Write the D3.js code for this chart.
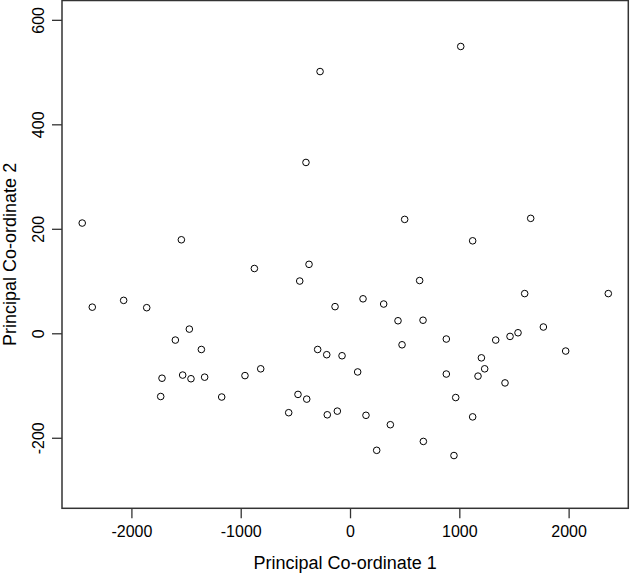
<!DOCTYPE html>
<html>
<head>
<meta charset="utf-8">
<script src="https://cdn.jsdelivr.net/npm/d3@7"></script>
<style>
  body { margin: 0; background: #fff; }
  text { font-family: "Liberation Sans", Arial, sans-serif; }
</style>
</head>
<body>
<script>
// principal co-ordinate scores
var pc1 = [-2450, -1543, -2358, -2071, -1860, -1470, -1598, -1360, -1720, -1531, -1455, -1330, -1732, -1174,
           1013, -274, -403,
           500, -875, -375, -460, 637, -137, 119, 308, 439, 668, 476, -296, -213, -73, 70, -817, -961,
           -476, -396, -561, -208, -116, 146, 369, 244, 671,
           1653, 1122, 1598, 2363, 1769, 881, 1333, 1464, 1537, 1973, 1202, 1232, 1171, 881, 1418, 967, 1122, 951];
var pc2 = [211, 179, 50, 63, 49, 8, -13, -31, -86, -80, -87, -84, -121, -122,
           549, 501, 327,
           218, 124, 132, 100, 101, 51, 66, 56, 24, 25, -22, -31, -41, -43, -74, -68, -81,
           -117, -126, -152, -156, -149, -157, -175, -224, -207,
           220, 177, 76, 76, 12, -11, -13, -6, 1, -34, -47, -68, -82, -78, -95, -123, -160, -234];

var xTicks = [-2000, -1000, 0, 1000, 2000];
var yTicks = [-200, 0, 200, 400, 600];

var width = 630;
var height = 573;

// plot box (window.top is taken, so no "top" here)
var boxL = 62, boxR = 628.3, boxT = 0.5, boxB = 508.3;

var points = pc1.map(function(d, i){
  return {x: d, y: pc2[i]};
});

var xScale = d3.scaleLinear()
               .domain([-2635, 2546])
               .range([boxL, boxR]);

var yScale = d3.scaleLinear()
               .domain([-335, 637])
               .range([boxB, boxT]);

var svg = d3.select("body")
            .append("svg")
            .attr("width", width)
            .attr("height", height);

// plain hyphen like R, not the unicode minus
var fmt = function(d){ return String(d); };

var xAxis = d3.axisBottom()
              .scale(xScale)
              .tickValues(xTicks)
              .tickSize(10)
              .tickPadding(7.5)
              .tickFormat(fmt);

var yAxis = d3.axisLeft()
              .scale(yScale)
              .tickValues(yTicks)
              .tickSize(10)
              .tickFormat(fmt);

var gx = svg.append("g")
   .attr("transform", "translate(0," + boxB + ")")
   .call(xAxis);

var gy = svg.append("g")
   .attr("transform", "translate(" + boxL + ",0)")
   .call(yAxis);

[gx, gy].forEach(function(g){
  g.select(".domain").remove();
  g.selectAll(".tick line").attr("stroke", "#333").attr("stroke-width", 1.3);
  g.selectAll(".tick text")
   .attr("fill", "#000")
   .attr("font-size", 16)
   .attr("font-family", "Liberation Sans, Arial, sans-serif");
});

// y labels are turned like R does it (las = 0)
gy.selectAll(".tick text")
  .attr("x", null)
  .attr("dy", null)
  .attr("text-anchor", "middle")
  .attr("transform", "translate(-18.5,0) rotate(-90)");

svg.append("rect")
   .attr("x", boxL)
   .attr("y", boxT)
   .attr("width", boxR - boxL)
   .attr("height", boxB - boxT)
   .attr("fill", "none")
   .attr("stroke", "#333")
   .attr("stroke-width", 1.5);

svg.selectAll("circle")
   .data(points)
   .enter()
   .append("circle")
   .attr("cx", function(d){
     return xScale(d.x);
   })
   .attr("cy", function(d){
     return yScale(d.y);
   })
   .attr("r", 3.3)
   .attr("fill", "none")
   .attr("stroke", "#000")
   .attr("stroke-width", 1);

svg.append("text")
   .attr("x", (boxL + boxR) / 2)
   .attr("y", 569)
   .attr("text-anchor", "middle")
   .attr("font-size", 18)
   .text("Principal Co-ordinate 1");

svg.append("text")
   .attr("transform", "translate(15.5," + (boxT + boxB) / 2 + ") rotate(-90)")
   .attr("text-anchor", "middle")
   .attr("font-size", 18)
   .text("Principal Co-ordinate 2");
</script>
</body>
</html>
